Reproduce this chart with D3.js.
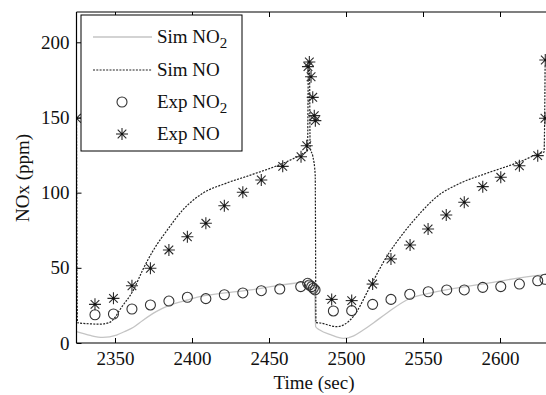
<!DOCTYPE html>
<html><head><meta charset="utf-8">
<script src="https://cdn.jsdelivr.net/npm/d3@7"></script>
<style>body{margin:0;background:#fff}svg{display:block}text{font-family:'Liberation Serif','Times New Roman',serif}</style>
</head><body>
<svg id="c" width="546" height="395"></svg>
<script>
// ---- data ----
const xTicks = [2350, 2400, 2450, 2500, 2550, 2600];
const yTicks = [0, 50, 100, 150, 200];

const simNO2Time = [2325, 2334, 2342, 2351, 2356, 2362, 2368, 2377, 2384, 2397, 2405, 2427, 2438, 2457, 2474.5, 2477, 2479.5, 2480.3, 2483, 2490, 2498.3, 2505, 2511.2, 2518, 2526.4, 2539.4, 2558.9, 2591.4, 2626, 2632];
const simNO2Val  = [7.5, 5, 3.8, 5.3, 7.5, 10.5, 15, 21, 24.5, 28.6, 30.8, 34, 35.3, 38.5, 40.8, 41.2, 40.5, 10.8, 8.6, 5.5, 3.1, 4.8, 8.6, 13.5, 19.8, 28.6, 34.1, 39.7, 45.2, 45.8];

const simNOTime = [2325, 2325.6, 2333, 2340, 2346, 2350, 2353, 2362, 2368, 2375, 2384, 2394, 2407, 2422, 2438, 2459, 2472, 2475, 2475.6, 2476.3, 2476.7, 2478.5, 2480, 2480.5, 2483, 2494, 2504.7, 2515.6, 2526.4, 2537.2, 2548.1, 2558.9, 2574, 2591.4, 2613.1, 2626, 2628.6, 2629.3];
const simNOVal  = [150, 13.5, 12.8, 12.5, 13.5, 17, 21.9, 35.3, 48.6, 61.9, 75.2, 88.5, 99.6, 106.2, 111.7, 119.5, 126, 128, 183, 183, 130, 124, 112, 13.5, 13.3, 10.9, 17.5, 37.4, 57.4, 73, 86.3, 97.3, 106.2, 112.9, 120.6, 126.2, 127, 185];

const expNO2Time = [2337, 2349, 2361, 2373, 2385, 2397, 2409, 2421, 2433, 2445, 2457, 2470.6, 2475.1, 2476.2, 2477.7, 2478.8, 2479.9, 2491.8, 2503.7, 2517.3, 2529.2, 2541.4, 2553.4, 2565.4, 2576.8, 2588.8, 2600.5, 2612.6, 2624.5, 2629.2];
const expNO2Val  = [18.8, 19.3, 22.6, 25.3, 27.9, 30.4, 29.5, 32.1, 33.3, 34.8, 35.9, 37.5, 39.7, 38.6, 37.5, 36.4, 35.3, 21.3, 21.5, 25.7, 29, 32.4, 34.1, 35.3, 35.3, 37, 37.5, 39.2, 41.4, 42.4];

const expNOTime = [2325, 2337, 2349, 2361, 2373, 2385, 2397, 2409, 2421, 2433, 2445, 2458.9, 2470.8, 2474.5, 2475.3, 2476.2, 2477.3, 2478.4, 2479.4, 2480.1, 2490.7, 2503.7, 2517.3, 2529.2, 2541.6, 2553.3, 2565.1, 2576.8, 2588.8, 2600.5, 2612.6, 2624.5, 2629.2, 2629.4];
const expNOVal  = [149.5, 25.7, 29.7, 38.1, 49.7, 61.9, 70.7, 79.6, 91.3, 100.3, 108.4, 117.5, 123.9, 131.2, 183.8, 186.9, 177.1, 163.4, 151.2, 147.9, 29, 28.2, 39.2, 55.9, 65.2, 75.8, 85.1, 93.6, 104, 110.2, 117.9, 124.6, 149.5, 188.2];

const legendLabels = [["Sim NO", "2"], ["Sim NO", ""], ["Exp NO", "2"], ["Exp NO", ""]];

// ---- layout ----
const L = 76.5, T = 12, B = 343, R = 577;
const x = d3.scaleLinear().domain([2325, 2650]).range([L, R]);
const y = d3.scaleLinear().domain([0, 220]).range([B, B - 220 * 1.5035]);
const svg = d3.select("#c");
const font = "'Liberation Serif', 'Times New Roman', serif";

svg.append("defs").append("clipPath").attr("id", "clip")
  .append("rect").attr("x", L).attr("y", T).attr("width", R - L).attr("height", B - T);

const g = svg.append("g").attr("clip-path", "url(#clip)");

const zip = (a, b) => a.map((t, i) => [t, b[i]]);
const line = d3.line().x(d => x(d[0])).y(d => y(d[1])).curve(d3.curveMonotoneX);

g.append("path").datum(zip(simNO2Time, simNO2Val)).attr("d", line)
  .attr("fill", "none").attr("stroke", "#c4c4c4").attr("stroke-width", 1.3);
g.append("path").datum(zip(simNOTime, simNOVal)).attr("d", line)
  .attr("fill", "none").attr("stroke", "#222").attr("stroke-width", 1.2).attr("stroke-dasharray", "2,1.3");

function star(sel, cx, cy, r) {
  const gg = sel.append("g").attr("transform", `translate(${cx},${cy})`)
    .attr("stroke", "#2a2a2a").attr("stroke-width", 1.1);
  const d = r * 0.72;
  gg.append("line").attr("x1", -r).attr("x2", r).attr("y1", 0).attr("y2", 0);
  gg.append("line").attr("x1", 0).attr("x2", 0).attr("y1", -r).attr("y2", r);
  gg.append("line").attr("x1", -d).attr("x2", d).attr("y1", -d).attr("y2", d);
  gg.append("line").attr("x1", -d).attr("x2", d).attr("y1", d).attr("y2", -d);
  gg.append("circle").attr("r", 1.3).attr("fill", "#111").attr("stroke", "none");
}

zip(expNO2Time, expNO2Val).forEach(d => {
  g.append("circle").attr("cx", x(d[0])).attr("cy", y(d[1])).attr("r", 5)
    .attr("fill", "none").attr("stroke", "#333").attr("stroke-width", 1.1);
});
zip(expNOTime, expNOVal).forEach(d => star(g, x(d[0]), y(d[1]), 6));

// ---- axes frame ----
const ax = svg.append("g").attr("stroke", "#000").attr("stroke-width", 1.2);
ax.append("line").attr("x1", L).attr("x2", 546).attr("y1", B).attr("y2", B);
ax.append("line").attr("x1", L).attr("x2", 546).attr("y1", T).attr("y2", T);
ax.append("line").attr("x1", L).attr("x2", L).attr("y1", T).attr("y2", B);

const xb = svg.append("g").attr("transform", `translate(0,${B})`)
  .call(d3.axisBottom(x).tickValues(xTicks).tickSize(-5).tickPadding(9).tickFormat(d3.format("d")));
const xt = svg.append("g").attr("transform", `translate(0,${T})`)
  .call(d3.axisTop(x).tickValues(xTicks).tickSize(-5).tickFormat(""));
const yl = svg.append("g").attr("transform", `translate(${L},0)`)
  .call(d3.axisLeft(y).tickValues(yTicks).tickSize(-5).tickPadding(7));
[xb, xt, yl].forEach(a => {
  a.attr("font-family", null);
  a.select(".domain").remove();
  a.selectAll(".tick line").attr("stroke", "#000").attr("stroke-width", 1);
  a.selectAll(".tick text").style("font-family", font).attr("font-size", 19).attr("fill", "#111");
});

svg.append("text").attr("x", 314).attr("y", 389).attr("text-anchor", "middle")
  .style("font-family", font).attr("font-size", 19).attr("fill", "#111").text("Time (sec)");
svg.append("text").attr("transform", "translate(29,178) rotate(-90)").attr("text-anchor", "middle")
  .style("font-family", font).attr("font-size", 19).attr("fill", "#111").text("NOx (ppm)");

// ---- legend ----
const lg = svg.append("g");
lg.append("rect").attr("x", 81).attr("y", 15).attr("width", 161).attr("height", 136)
  .attr("fill", "#fff").attr("stroke", "#000").attr("stroke-width", 1);
const rowY = [37, 70, 102, 134];
lg.append("line").attr("x1", 93).attr("x2", 152).attr("y1", rowY[0]).attr("y2", rowY[0])
  .attr("stroke", "#c4c4c4").attr("stroke-width", 1.3);
lg.append("line").attr("x1", 93).attr("x2", 152).attr("y1", rowY[1]).attr("y2", rowY[1])
  .attr("stroke", "#222").attr("stroke-width", 1.2).attr("stroke-dasharray", "2,1.3");
lg.append("circle").attr("cx", 122).attr("cy", rowY[2]).attr("r", 5)
  .attr("fill", "none").attr("stroke", "#333").attr("stroke-width", 1.1);
star(lg, 122, rowY[3], 6);
legendLabels.forEach((lab, i) => {
  const t = lg.append("text").attr("x", 157).attr("y", rowY[i] + 6)
    .style("font-family", font).attr("font-size", 19).attr("fill", "#111");
  t.append("tspan").text(lab[0]);
  if (lab[1]) t.append("tspan").attr("dy", 5).attr("font-size", 15).text(lab[1]);
});
</script>
</body></html>
